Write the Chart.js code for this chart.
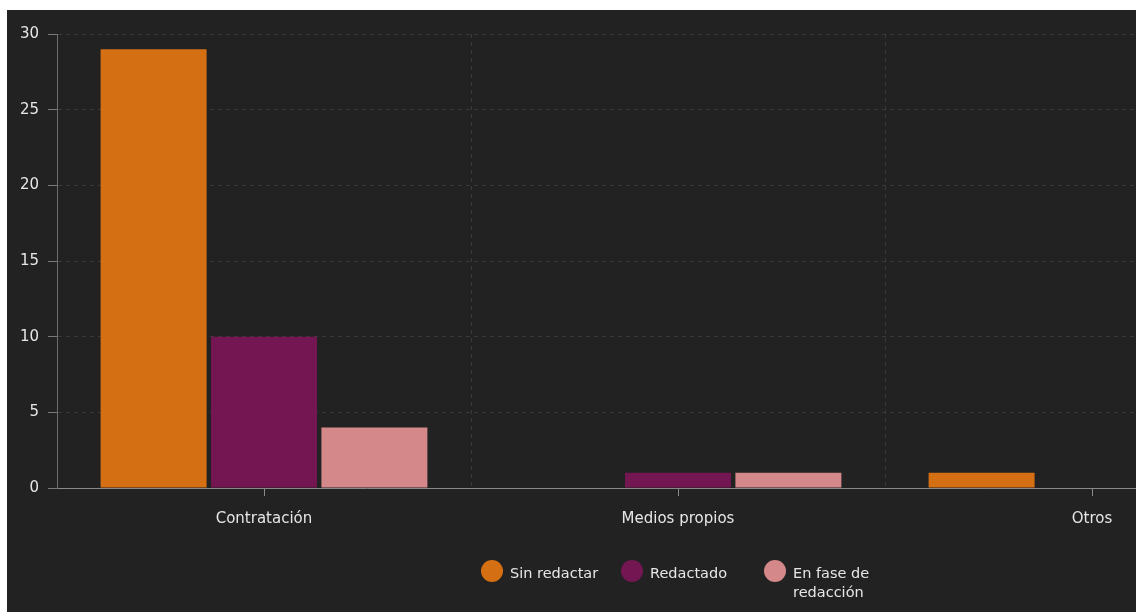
<!DOCTYPE html>
<html>
<head>
<meta charset="utf-8">
<script src="https://cdn.jsdelivr.net/npm/chart.js@4.4.0/dist/chart.umd.min.js"></script>
<style>
  html, body { margin:0; padding:0; background:#ffffff; overflow:hidden; width:1136px; height:612px; }
  #panel { position:absolute; left:7px; top:10px; width:1300px; height:602px; background:#222222; }
  #wrap { position:absolute; left:0; top:0; width:1300px; height:602px; }
  .leg { position:absolute; display:flex; align-items:flex-start; font-family:"DejaVu Sans", sans-serif; font-size:14.5px; color:#e6e6e6; line-height:19px; }
  .dot { width:22px; height:22px; border-radius:50%; margin-right:7px; flex:none; margin-top:-4px; }
</style>
</head>
<body>
<div id="panel">
  <div id="wrap"><canvas id="c"></canvas></div>
</div>
<div id="legend"></div>
<script>
const categories = ['Contratación', 'Medios propios', 'Otros'];
const seriesNames = ['Sin redactar', 'Redactado', 'En fase de redacción'];
const sinRedactar = [29, 0, 1];
const redactado = [10, 1, 0];
const enFase = [4, 1, 0];
const yTicks = [0, 5, 10, 15, 20, 25, 30];
const colors = ['#d56f13', '#741652', '#d4888a'];

const centerTicks = {
  id: 'centerTicks',
  afterDraw(chart) {
    const x = chart.scales.x, ctx = chart.ctx, y0 = chart.chartArea.bottom;
    ctx.save();
    ctx.strokeStyle = '#8a8a8a';
    ctx.lineWidth = 1;
    categories.forEach((c, i) => {
      const px = Math.round(x.getPixelForValue(i)) + 0.5;
      ctx.beginPath(); ctx.moveTo(px, y0); ctx.lineTo(px, y0 + 8); ctx.stroke();
    });
    ctx.restore();
  }
};

new Chart(document.getElementById('c'), {
  type: 'bar',
  data: {
    labels: categories,
    datasets: [
      { label: seriesNames[0], data: sinRedactar, backgroundColor: colors[0] },
      { label: seriesNames[1], data: redactado, backgroundColor: colors[1] },
      { label: seriesNames[2], data: enFase, backgroundColor: colors[2] }
    ]
  },
  options: {
    responsive: true,
    maintainAspectRatio: false,
    animation: false,
    layout: { padding: { left: 6, top: 24, right: 8, bottom: 84 } },
    datasets: { bar: { categoryPercentage: 0.8, barPercentage: 0.96, borderWidth: 0 } },
    plugins: { legend: { display: false }, tooltip: { enabled: false } },
    scales: {
      x: {
        afterFit: s => { s.height = 40; },
        grid: { display: true, offset: true, color: '#3a3a3a', drawTicks: false, lineWidth: 1 },
        border: { display: true, color: '#8a8a8a', dash: [4, 4] },
        ticks: { color: '#e6e6e6', font: { family: 'DejaVu Sans', size: 15 }, padding: 22, maxRotation: 0, autoSkip: false }
      },
      y: {
        min: 0, max: 30,
        afterFit: s => { s.width = 44; },
        afterBuildTicks: s => { s.ticks = yTicks.map(v => ({ value: v })); },
        grid: { color: '#3a3a3a', tickColor: '#7a7a7a', tickLength: 9, drawTicks: true },
        border: { display: true, color: '#6e6e6e', dash: [4, 4] },
        ticks: { color: '#e6e6e6', font: { family: 'DejaVu Sans', size: 15 }, padding: 9 }
      }
    }
  },
  plugins: [centerTicks]
});

const legendPos = [481, 621, 764];
const legend = document.getElementById('legend');
seriesNames.forEach((n, i) => {
  const d = document.createElement('div');
  d.className = 'leg';
  d.style.left = legendPos[i] + 'px';
  d.style.top = '564px';
  const dot = document.createElement('span');
  dot.className = 'dot';
  dot.style.background = colors[i];
  const t = document.createElement('span');
  t.textContent = n;
  if (i === 2) t.style.width = '84px';
  d.appendChild(dot); d.appendChild(t);
  legend.appendChild(d);
});
</script>
</body>
</html>
